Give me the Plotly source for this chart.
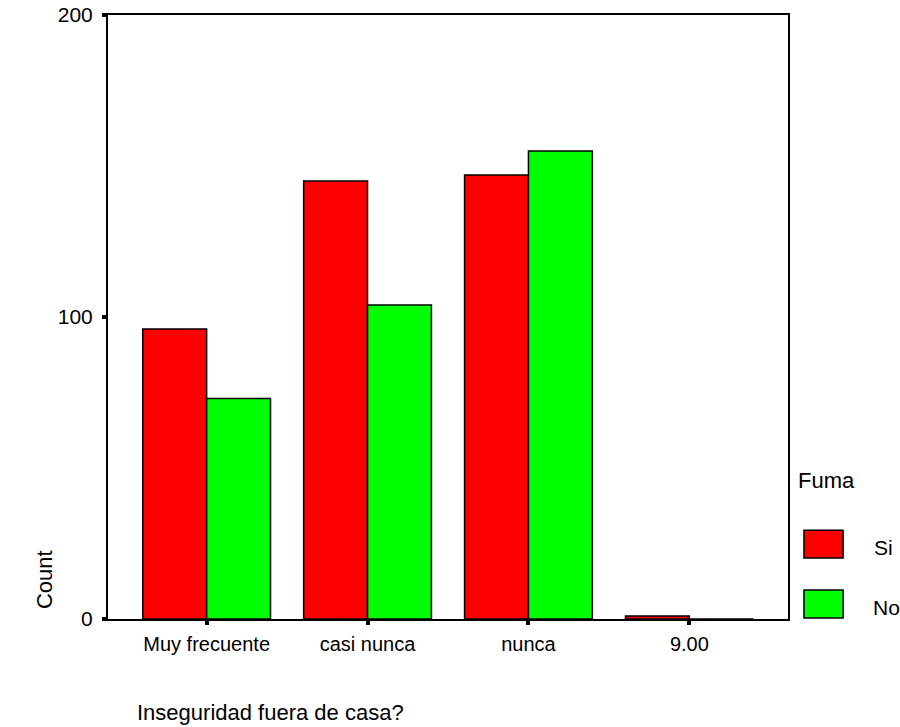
import plotly.graph_objects as go

categories = ["Muy frecuente", "casi nunca", "nunca", "9.00"]
si_values = [96, 145, 147, 1]
no_values = [73, 104, 155, 0]
y_ticks = [0, 100, 200]

FONT = "Liberation Sans, Arial, sans-serif"
RED = "#ff0000"
GREEN = "#00ff00"

fig = go.Figure()
fig.add_trace(go.Bar(x=categories, y=si_values, name="Si",
                     marker=dict(color=RED, line=dict(color="black", width=1.5))))
fig.add_trace(go.Bar(x=categories, y=no_values, name="No",
                     marker=dict(color=GREEN, line=dict(color="black", width=1.5))))

fig.update_layout(
    width=900, height=727,
    margin=dict(l=108, r=112, t=15, b=108),
    paper_bgcolor="white", plot_bgcolor="white",
    barmode="group", bargap=0.206, bargroupgap=0,
    showlegend=False,
    font=dict(family=FONT, size=16, color="black"),
    xaxis=dict(range=[-0.613, 3.613], showline=True, linecolor="black", linewidth=2,
               mirror=True, ticks="outside", ticklen=4, tickwidth=4, tickcolor="black",
               showgrid=False, zeroline=False, tickfont=dict(size=20),
               automargin=False, ticklabelstandoff=2),
    yaxis=dict(range=[0, 200], tickvals=y_ticks, showline=True, linecolor="black",
               linewidth=2, mirror=True, ticks="outside", ticklen=4, tickwidth=4,
               tickcolor="black", showgrid=False, zeroline=False, tickfont=dict(size=21),
               automargin=False, ticklabelstandoff=5, ticklabeloverflow="allow"),
)

# custom legend
fig.add_shape(type="rect", xref="paper", yref="paper", x0=1.0235, x1=1.081, y0=0.101, y1=0.147,
              fillcolor=RED, line=dict(color="black", width=1.5))
fig.add_shape(type="rect", xref="paper", yref="paper", x0=1.0235, x1=1.081, y0=0.0017, y1=0.048,
              fillcolor=GREEN, line=dict(color="black", width=1.5))
fig.add_annotation(text="Fuma", xref="paper", yref="paper", x=1.0115, y=0.2285,
                   xanchor="left", yanchor="middle", showarrow=False, font=dict(size=22))
fig.add_annotation(text="Si", xref="paper", yref="paper", x=1.124, y=0.119,
                   xanchor="left", yanchor="middle", showarrow=False, font=dict(size=21))
fig.add_annotation(text="No", xref="paper", yref="paper", x=1.122, y=0.0183,
                   xanchor="left", yanchor="middle", showarrow=False, font=dict(size=21))
fig.add_annotation(text="Count", xref="paper", yref="paper", x=-0.0926, y=0.0646,
                   xanchor="center", yanchor="middle", textangle=-90, showarrow=False,
                   font=dict(size=22))
fig.add_annotation(text="Inseguridad fuera de casa?", xref="paper", yref="paper",
                   x=0.0397, y=-0.154, xanchor="left", yanchor="middle", showarrow=False,
                   font=dict(size=22))

fig.write_html("out.html", config={"displayModeBar": False},
               post_script="document.body.style.margin='0';")
